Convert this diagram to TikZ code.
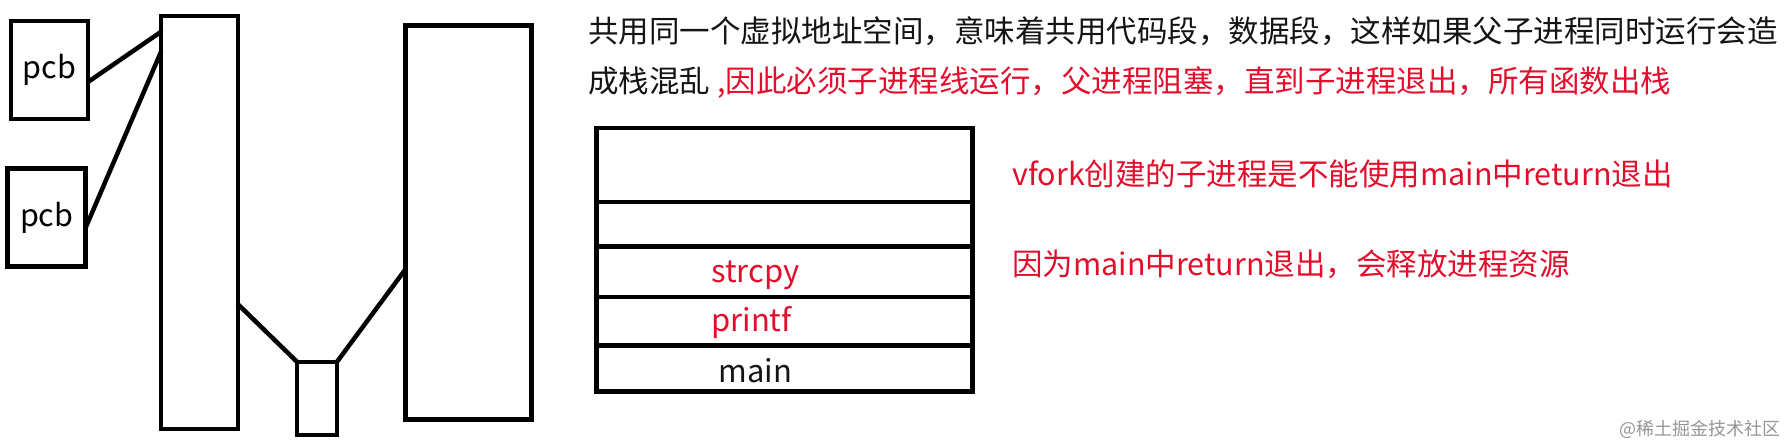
\documentclass[tikz,border=0pt]{standalone}
\usepackage{fontspec}
\setmainfont{Noto Sans CJK SC}
\usetikzlibrary{positioning,calc}
\definecolor{notered}{RGB}{226,14,44}
\definecolor{inkblack}{RGB}{20,20,20}
\definecolor{markgray}{RGB}{150,150,150}

\begin{document}
\begin{tikzpicture}[
        x=1pt, y=-1pt,
        font=\fontsize{30.5}{36}\selectfont,
        blk/.style={draw, line width=4.5pt, inner sep=0pt, outer sep=0pt},
        frame/.style={blk, minimum width=376pt},
        link/.style={line width=4.5pt, line cap=round},
        note/.style={anchor=west, inner sep=0pt, text=inkblack},
        rednote/.style={note, text=notered},
        stacklbl/.style={anchor=base, inner sep=0pt, font=\fontsize{31}{36}\selectfont}
    ]
        \useasboundingbox (0,0) rectangle (1784,444);

        % pcb blocks and the memory they point to
        \node[blk, minimum width=77pt, minimum height=98pt] (pcbA) at (49.5,70) {pcb};
        \node[blk, minimum width=78pt, minimum height=98pt] (pcbB) at (46.7,217.5) {pcb};
        \node[blk, minimum width=77pt, minimum height=413pt] (vspace) at (199.5,222.3) {};
        \node[blk, minimum width=40pt, minimum height=73pt] (pagetab) at (317,398.3) {};
        \node[blk, minimum width=126pt, minimum height=394pt] (physmem) at (468.3,222.5) {};

        \draw[link] ([yshift=-12pt]pcbA.east) -- ([yshift=-16pt]vspace.north west);
        \draw[link] ([yshift=-10pt]pcbB.east) -- ([yshift=-36pt]vspace.north west);
        \draw[link] ([yshift=-82pt]vspace.east) -- (pagetab.north west);
        \draw[link] (pagetab.north east) -- ([yshift=-47pt]physmem.west);

        % notes
        \node[note] (lineA) at (588,31) {共用同一个虚拟地址空间，意味着共用代码段，数据段，这样如果父子进程同时运行会造};
        \node[note] (lineB) at (588,82) {成栈混乱 \textcolor{notered}{,因此必须子进程线运行，父进程阻塞，直到子进程退出，所有函数出栈}};
        \node[rednote] (vforknote) at (1012,174) {vfork创建的子进程是不能使用main中return退出};
        \node[rednote] (retnote) at (1012,264) {因为main中return退出，会释放进程资源};

        % the stack
        \node[frame, minimum height=74pt] (frameA) at (784.5,165) {};
        \node[frame, minimum height=44.5pt, below=0pt of frameA] (frameB) {};
        \node[frame, minimum height=50.5pt, below=0pt of frameB] (frameC) {};
        \node[frame, minimum height=48.5pt, below=0pt of frameC] (frameD) {};
        \node[frame, minimum height=46pt, below=0pt of frameD] (frameE) {};
        \node[stacklbl, text=notered] (strcpy) at ([xshift=-29pt,yshift=-11pt]frameC.center) {strcpy};
        \node[stacklbl, text=notered] (printf) at ([xshift=-33pt,yshift=-10pt]frameD.center) {printf};
        \node[stacklbl, text=inkblack] (mainfn) at ([xshift=-29pt,yshift=-13.5pt]frameE.center) {main};

        \node[anchor=east, inner sep=0pt, text=markgray, font=\fontsize{18}{22}\selectfont] (mark) at (1781,429) {@稀土掘金技术社区};
    \end{tikzpicture}
\end{document}
